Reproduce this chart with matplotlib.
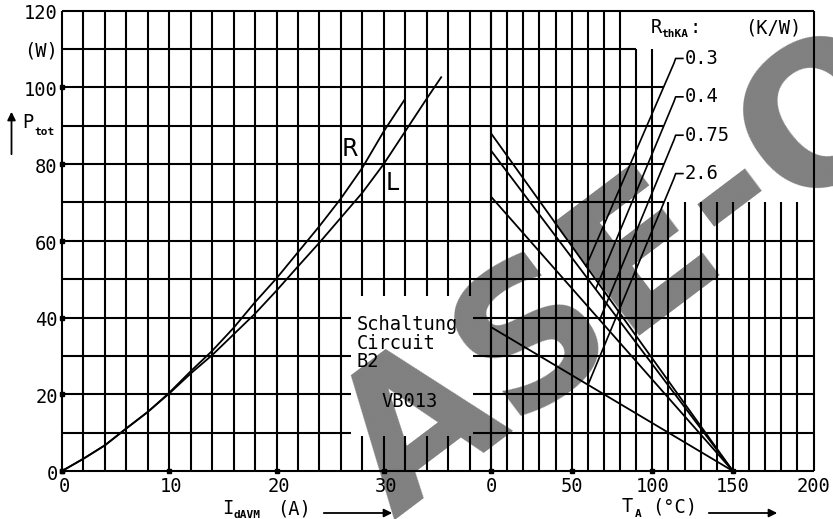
import matplotlib
matplotlib.use('Agg')
import matplotlib.pyplot as plt

W, H = 833, 519

# ---------------- data ----------------
# left panel: P_tot (W) vs I_dAVM (A)
i_R = [0, 2, 4, 6, 8, 10, 12, 14, 16, 18, 20, 22, 24, 26, 28, 30, 32]
p_R = [0, 3.2, 6.7, 11.1, 15.4, 20.4, 26.0, 31.3, 37.3, 44.0, 50.2, 57.0, 63.8, 71.0, 79.0, 88.5, 97.0]
i_L = [0, 2, 4, 6, 8, 10, 12, 14, 16, 18, 20, 22, 24, 26, 28, 30, 32, 34, 35.4]
p_L = [0, 3.2, 6.7, 11.1, 15.4, 20.2, 25.4, 30.2, 35.6, 41.0, 47.0, 53.3, 59.5, 66.0, 72.5, 80.0, 88.5, 97.0, 102.8]

# right panel: P_tot vs T_A for R_thKA values
rth_labels = ['0.3', '0.4', '0.75', '2.6']
p_at_t0 = [88.0, 83.5, 71.5, 37.5]      # P at T_A = 0
t_at_p0 = [150, 150, 150, 150]          # T_A where P = 0
label_p = [107.5, 97.5, 87.5, 77.5]     # label heights
leader_end_t = [59.0, 65.0, 67.5, 60.3]
leader_end_p = [53.4, 47.5, 39.5, 22.6]

yticks = [0, 20, 40, 60, 80, 100, 120]
xticks_L = [0, 10, 20, 30]
xticks_R = [0, 50, 100, 150, 200]

MONO = 'DejaVu Sans Mono'
FS = 13.5

fig = plt.figure(figsize=(W / 100, H / 100), dpi=100)
fig.patch.set_facecolor('white')


def px_ax(x0, x1, y0, y1):
    return fig.add_axes([x0 / W, 1 - y1 / H, (x1 - x0) / W, (y1 - y0) / H])


def fpos(x, y):
    return x / W, 1 - y / H


axL = px_ax(62, 491, 10.5, 471)
axR = px_ax(491, 813.5, 10.5, 471)
for ax in (axL, axR):
    ax.set_axis_off()
    ax.set_ylim(0, 120)
axL.set_xlim(0, 40)
axR.set_xlim(0, 200)

GLW = 1.5
gkw = dict(color='black', lw=GLW, clip_on=False, zorder=2)

# ---------------- grid: left panel ----------------
for x in range(0, 41, 2):
    if 28 <= x <= 38:
        axL.vlines(x, 0, 9, **gkw)
        axL.vlines(x, 45.5, 120, **gkw)
    else:
        axL.vlines(x, 0, 120, **gkw)
for y in range(0, 121, 10):
    if 10 <= y <= 40:
        axL.hlines(y, 0, 26.9, **gkw)
        axL.hlines(y, 38.3, 40, **gkw)
    else:
        axL.hlines(y, 0, 40, **gkw)

# ---------------- grid: right panel ----------------
for t in range(0, 201, 10):
    if t <= 80 or t == 200:
        axR.vlines(t, 0, 120, **gkw)
    elif t <= 100:
        axR.vlines(t, 0, 110, **gkw)
    else:
        axR.vlines(t, 0, 70, **gkw)
for p in range(0, 121, 10):
    if p <= 60 or p == 120:
        axR.hlines(p, 0, 200, **gkw)
    elif p <= 100:
        axR.hlines(p, 0, 107, **gkw)
    else:
        axR.hlines(p, 0, 90, **gkw)

# ---------------- curves ----------------
ckw = dict(color='black', lw=1.3, clip_on=False, zorder=3, solid_capstyle='butt')
axL.plot(i_R, p_R, **ckw)
axL.plot(i_L, p_L, **ckw)
axL.text(26.85, 83.8, 'R', fontsize=17, ha='center', va='center', family='DejaVu Sans', zorder=4)
axL.text(30.8, 75.1, 'L', fontsize=17, ha='center', va='center', family='DejaVu Sans', zorder=4)

for p0, t0, lab, lp, et, ep in zip(p_at_t0, t_at_p0, rth_labels, label_p, leader_end_t, leader_end_p):
    axR.plot([0, t0], [p0, 0], **ckw)
    axR.plot([119, 114.5, 113.5, et], [lp, lp, lp - 1.2, ep], color='black', lw=1.2,
             clip_on=False, zorder=3)
    axR.text(120, lp, lab, fontsize=FS, family=MONO, ha='left', va='center', zorder=4)

# ---------------- tick markers ----------------
mkw = dict(marker='s', ms=3.5, color='black', ls='none', clip_on=False, zorder=4)
axL.plot([0] * 6, yticks[:6], **mkw)
axL.plot(xticks_L, [0] * len(xticks_L), **mkw)
axR.plot(xticks_R[:4], [0] * 4, **mkw)

# ---------------- tick labels ----------------
tkw = dict(fontsize=FS, family=MONO, zorder=4)
for y in yticks:
    axL.text(-0.4, y - 0.9, str(y), ha='right', va='center', **tkw)
axL.text(-0.4, 109.5, '(W)', ha='right', va='center', **tkw)
for x in xticks_L:
    axL.text(x + 0.2, -4.0, str(x), ha='center', va='center', **tkw)
for x in xticks_R:
    axR.text(x, -4.0, str(x), ha='center', va='center', **tkw)

# ---------------- circuit box text ----------------
axL.text(27.5, 38.3, 'Schaltung', ha='left', va='center', **tkw)
axL.text(27.5, 33.2, 'Circuit', ha='left', va='center', **tkw)
axL.text(27.5, 28.5, 'B2', ha='left', va='center', **tkw)
axL.text(29.8, 18.2, 'VB013', ha='left', va='center', **tkw)

# ---------------- legend header ----------------
fig.text(*fpos(651, 27.5), 'R', fontsize=FS, family=MONO, ha='left', va='center')
fig.text(*fpos(661, 34), 'thKA', fontsize=8, family=MONO, ha='left', va='center', fontweight='bold')
fig.text(*fpos(690, 27.5), ':', fontsize=FS, family=MONO, ha='left', va='center')
fig.text(*fpos(745, 27.5), '(K/W)', fontsize=FS, family=MONO, ha='left', va='center')

# ---------------- axis titles ----------------
fig.text(*fpos(22, 123), 'P', fontsize=FS, family=MONO, ha='left', va='center')
fig.text(*fpos(34, 132), 'tot', fontsize=8, family=MONO, ha='left', va='center', fontweight='bold')
fig.patches.append(matplotlib.patches.FancyArrowPatch(
    fpos(11.5, 157), fpos(11.5, 109), transform=fig.transFigure, arrowstyle='-|>',
    mutation_scale=12, lw=1.3, color='black'))

fig.text(*fpos(222, 508), 'I', fontsize=FS, family=MONO, ha='left', va='center')
fig.text(*fpos(233, 515), 'dAVM', fontsize=8, family=MONO, ha='left', va='center', fontweight='bold')
fig.text(*fpos(277, 509), '(A)', fontsize=FS, family=MONO, ha='left', va='center')
fig.patches.append(matplotlib.patches.FancyArrowPatch(
    fpos(321, 513), fpos(395, 513), transform=fig.transFigure, arrowstyle='-|>',
    mutation_scale=12, lw=1.3, color='black'))

fig.text(*fpos(622, 507), 'T', fontsize=FS, family=MONO, ha='left', va='center')
fig.text(*fpos(635, 514), 'A', fontsize=8, family=MONO, ha='left', va='center', fontweight='bold')
fig.text(*fpos(652, 507), '(\u00b0C)', fontsize=FS, family=MONO, ha='left', va='center')
fig.patches.append(matplotlib.patches.FancyArrowPatch(
    fpos(706, 513), fpos(780, 513), transform=fig.transFigure, arrowstyle='-|>',
    mutation_scale=12, lw=1.3, color='black'))

# ---------------- watermark ----------------
fig.text(*fpos(628, 276), 'ASE-O', fontsize=140, fontweight='bold', family='DejaVu Sans',
         color='#808080', rotation=37, ha='center', va='center', zorder=-1)

fig.savefig('out.png', dpi=100, facecolor='white')
